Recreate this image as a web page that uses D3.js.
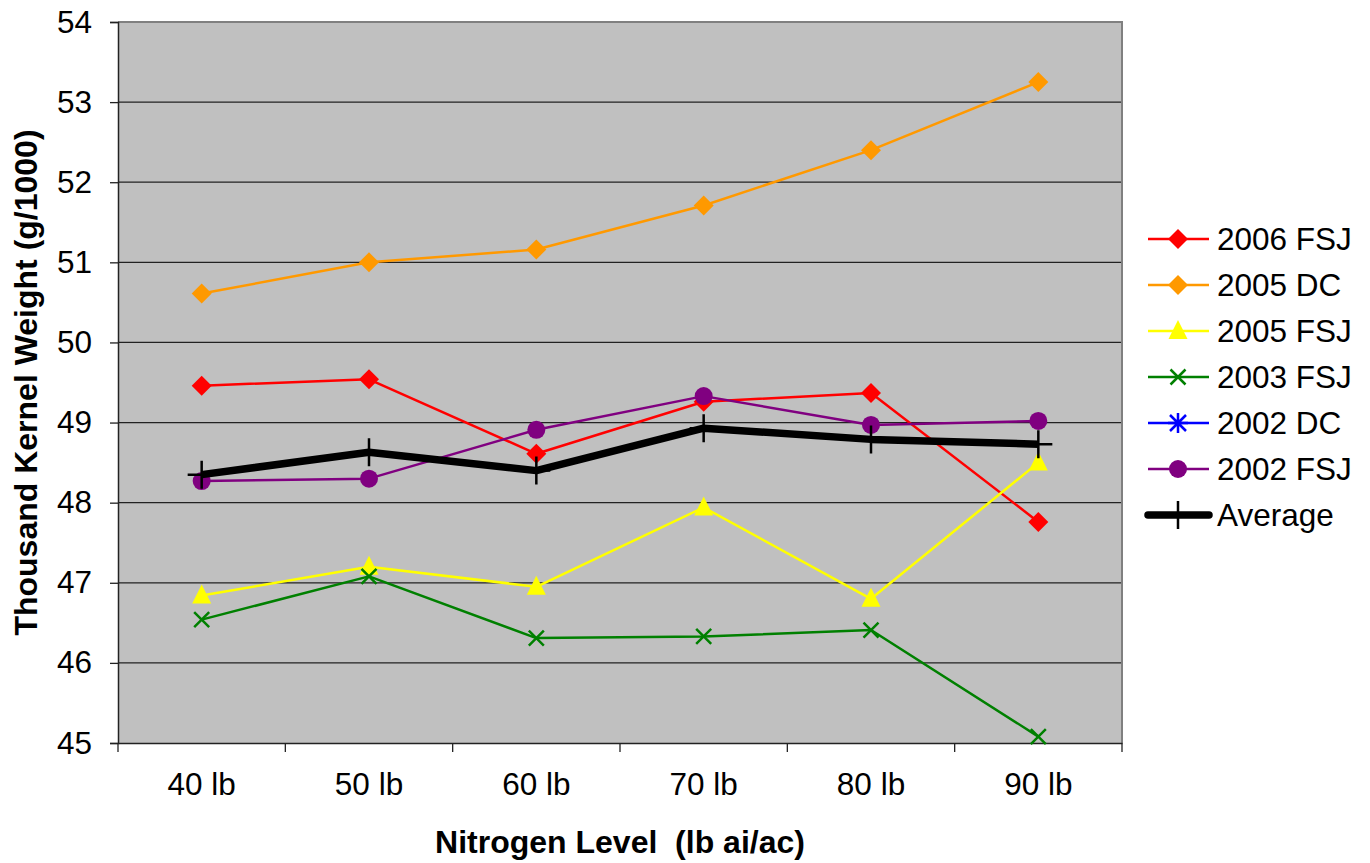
<!DOCTYPE html>
<html>
<head>
<meta charset="utf-8">
<script src="https://cdn.jsdelivr.net/npm/d3@7"></script>
<style>
  html, body { margin: 0; padding: 0; background: #fff; }
  svg { display: block; font-family: "Liberation Sans", Arial, sans-serif; }
</style>
</head>
<body>
<svg id="chart" width="1370" height="863"></svg>
<script>
// ---- data ----
const categories = ["40 lb", "50 lb", "60 lb", "70 lb", "80 lb", "90 lb"];
const yTicks = [45, 46, 47, 48, 49, 50, 51, 52, 53, 54];
const seriesNames = ["2006 FSJ", "2005 DC", "2005 FSJ", "2003 FSJ", "2002 DC", "2002 FSJ", "Average"];
const fsj2006 = [49.46, 49.54, 48.61, 49.26, 49.37, 47.76];
const dc2005 = [50.61, 51.0, 51.16, 51.71, 52.40, 53.25];
const fsj2005 = [46.84, 47.2, 46.95, 47.94, 46.80, 48.5];
const fsj2003 = [46.54, 47.08, 46.31, 46.33, 46.41, 45.08];
const dc2002 = [null, null, null, null, null, null];
const fsj2002 = [48.27, 48.30, 48.91, 49.33, 48.97, 49.02];
const average = [48.35, 48.63, 48.40, 48.93, 48.79, 48.73];

const seriesValues = [fsj2006, dc2005, fsj2005, fsj2003, dc2002, fsj2002, average];
const seriesColors = ["#FF0000", "#FF9900", "#FFFF00", "#008000", "#0000FF", "#800080", "#000000"];
const seriesMarkers = ["diamond", "diamond", "triangle", "x", "asterisk", "circle", "plus"];
const seriesWidths = [2.5, 2.5, 2.5, 2.5, 2.5, 2.5, 7.5];

// ---- layout ----
const svg = d3.select("#chart");
const pL = 118, pR = 1122, pT = 22, pB = 743;
const fs = 31.5;

const x = d3.scaleBand().domain(categories).range([pL, pR]).padding(0);
const y = d3.scaleLinear().domain([45, 54]).range([pB, pT]);
const cx = c => x(c) + x.bandwidth() / 2;

// plot background
svg.append("rect").attr("x", pL).attr("y", pT)
  .attr("width", pR - pL).attr("height", pB - pT)
  .attr("fill", "#C0C0C0");

// gridlines
svg.append("g").selectAll("line").data(yTicks.filter(t => t !== 45)).join("line")
  .attr("x1", pL).attr("x2", pR)
  .attr("y1", d => y(d)).attr("y2", d => y(d))
  .attr("stroke", "#222").attr("stroke-width", 1.3);

// border top/right
svg.append("path")
  .attr("d", `M${pL},${pT}H${pR}V${pB}`)
  .attr("fill", "none").attr("stroke", "#808080").attr("stroke-width", 2);

// y axis
const yAxis = svg.append("g").attr("transform", `translate(${pL},0)`)
  .call(d3.axisLeft(y).tickValues(yTicks).tickSize(8).tickPadding(18).tickFormat(d3.format("d")));
yAxis.select(".domain").attr("stroke", "#222").attr("stroke-width", 1.5);
yAxis.selectAll(".tick line").attr("stroke", "#222").attr("stroke-width", 1.3);
yAxis.selectAll(".tick text").attr("font-size", fs).attr("fill", "#000")
  .attr("font-family", "Liberation Sans, Arial, sans-serif");

// x axis
const xAxis = svg.append("g").attr("transform", `translate(0,${pB})`)
  .call(d3.axisBottom(x).tickSize(0).tickPadding(30));
xAxis.select(".domain").attr("stroke", "#222").attr("stroke-width", 1.5);
xAxis.selectAll(".tick text").attr("font-size", fs).attr("fill", "#000")
  .attr("font-family", "Liberation Sans, Arial, sans-serif");
// category boundary ticks
const bounds = categories.map(c => x(c)).concat([x.range()[1]]);
svg.append("g").selectAll("line").data(bounds).join("line")
  .attr("x1", d => d).attr("x2", d => d)
  .attr("y1", pB).attr("y2", pB + 9)
  .attr("stroke", "#222").attr("stroke-width", 1.3);

// axis titles
svg.append("text")
  .attr("x", (pL + pR) / 2).attr("y", 853)
  .attr("text-anchor", "middle").attr("font-weight", "bold").attr("font-size", 32)
  .attr("xml:space", "preserve")
  .text("Nitrogen Level  (lb ai/ac)");
svg.append("text")
  .attr("transform", `translate(37,${(pT + pB) / 2}) rotate(-90)`)
  .attr("text-anchor", "middle").attr("font-weight", "bold").attr("font-size", 32)
  .text("Thousand Kernel Weight (g/1000)");

// marker drawing
function drawMarker(g, type, color, px, py) {
  if (type === "diamond") {
    const r = 10;
    g.append("path").attr("d", `M${px},${py - r}L${px + r},${py}L${px},${py + r}L${px - r},${py}Z`)
      .attr("fill", color);
  } else if (type === "triangle") {
    g.append("path").attr("d", `M${px},${py - 11}L${px + 9.5},${py + 8}L${px - 9.5},${py + 8}Z`)
      .attr("fill", color);
  } else if (type === "circle") {
    g.append("circle").attr("cx", px).attr("cy", py).attr("r", 9).attr("fill", color);
  } else if (type === "x") {
    const r = 7.5;
    g.append("path").attr("d", `M${px - r},${py - r}L${px + r},${py + r}M${px - r},${py + r}L${px + r},${py - r}`)
      .attr("stroke", color).attr("stroke-width", 2.5).attr("fill", "none");
  } else if (type === "asterisk") {
    const r = 8;
    g.append("path").attr("d", `M${px},${py - 10}V${py + 10}M${px - r},${py - r}L${px + r},${py + r}M${px - r},${py + r}L${px + r},${py - r}M${px - 10},${py}H${px + 10}`)
      .attr("stroke", color).attr("stroke-width", 2.5).attr("fill", "none");
  } else if (type === "plus") {
    const r = 14;
    g.append("path").attr("d", `M${px},${py - r}V${py + r}M${px - r},${py}H${px + r}`)
      .attr("stroke", color).attr("stroke-width", 2.5).attr("fill", "none");
  }
}

// series
const line = d3.line().defined(d => d.v != null).x(d => cx(d.c)).y(d => y(d.v));
seriesNames.forEach((name, i) => {
  const pts = categories.map((c, j) => ({ c, v: seriesValues[i][j] }));
  const g = svg.append("g");
  g.append("path").datum(pts).attr("d", line)
    .attr("fill", "none").attr("stroke", seriesColors[i])
    .attr("stroke-width", seriesWidths[i]).attr("stroke-linejoin", "round");
  pts.filter(d => d.v != null).forEach(d => drawMarker(g, seriesMarkers[i], seriesColors[i], cx(d.c), y(d.v)));
});

// legend
const lg = svg.append("g");
seriesNames.forEach((name, i) => {
  const ly = 239 + i * 46;
  lg.append("line").attr("x1", 1148).attr("x2", 1209).attr("y1", ly).attr("y2", ly)
    .attr("stroke", seriesColors[i]).attr("stroke-width", seriesWidths[i])
    .attr("stroke-linecap", i === 6 ? "round" : "butt");
  drawMarker(lg, seriesMarkers[i], seriesColors[i], 1178, ly);
  lg.append("text").attr("x", 1217).attr("y", ly).attr("dy", "0.36em")
    .attr("font-size", fs).attr("fill", "#000").text(name);
});
</script>
</body>
</html>
